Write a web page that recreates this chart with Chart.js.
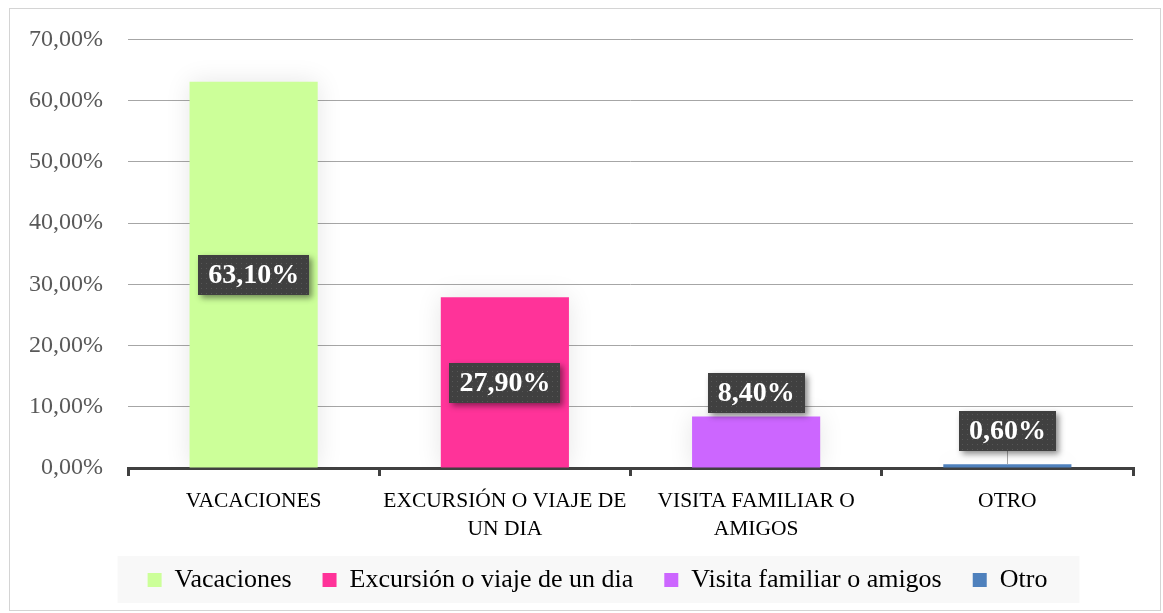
<!DOCTYPE html>
<html>
<head>
<meta charset="utf-8">
<script src="https://cdn.jsdelivr.net/npm/chart.js@4/dist/chart.umd.min.js"></script>
<style>
  html, body { margin: 0; padding: 0; background: #fff; }
  #wrap { width: 1163px; height: 613px; position: relative; }
</style>
</head>
<body>
<div id="wrap"><canvas id="chart" width="1163" height="613"></canvas></div>
<script>
// --- data ---
const categories = [['VACACIONES'], ['EXCURSIÓN O VIAJE DE', 'UN DIA'], ['VISITA FAMILIAR O', 'AMIGOS'], ['OTRO']];
const seriesNames = ['Vacaciones', 'Excursión o viaje de un dia', 'Visita familiar o amigos', 'Otro'];
const values = [63.1, 27.9, 8.4, 0.6];
const colors = ['#CCFF99', '#FF3399', '#CC66FF', '#4F81BD'];
const yTicks = [0, 10, 20, 30, 40, 50, 60, 70];

const SERIF = '"Liberation Serif", "DejaVu Serif", serif';
const fmt = v => v.toFixed(2).replace('.', ',') + '%';

// one dataset per category so the legend lists each one
const datasets = seriesNames.map((name, i) => ({
  label: name,
  data: values.map((v, j) => (j === i ? v : null)),
  backgroundColor: colors[i],
  borderWidth: 0
}));

/* outer frame + grey legend band; nudge legend to the right like the original */
const framePlugin = {
  id: 'frame',
  afterLayout(chart) {
    chart.legend.left += 26;
    chart.legend.right += 26;
  },
  beforeDraw(chart) {
    const { ctx } = chart;
    ctx.save();
    ctx.fillStyle = '#fff';
    ctx.fillRect(0, 0, chart.width, chart.height);
    ctx.strokeStyle = '#d4d4d4';
    ctx.lineWidth = 1;
    ctx.strokeRect(9.5, 8.5, 1151, 602);
    const boxes = chart.legend.legendHitBoxes;
    if (boxes && boxes.length) {
      const first = boxes[0], last = boxes[boxes.length - 1];
      ctx.fillStyle = '#f8f8f8';
      ctx.fillRect(first.left - 30, 556, last.left + last.width - first.left + 62, 47);
    }
    ctx.restore();
  }
};

/* soft glow behind bars */
const glowPlugin = {
  id: 'glow',
  beforeDatasetDraw(chart) {
    const ctx = chart.ctx;
    ctx.save();
    ctx.shadowColor = 'rgba(0,0,0,0.10)';
    ctx.shadowBlur = 24;
  },
  afterDatasetDraw(chart) { chart.ctx.restore(); }
};

/* dark textured value labels */
const labelPlugin = {
  id: 'valueLabels',
  afterDatasetsDraw(chart) {
    const { ctx } = chart;
    const base = chart.scales.y.getPixelForValue(0);
    chart.data.datasets.forEach((ds, i) => {
      const meta = chart.getDatasetMeta(i);
      ds.data.forEach((v, j) => {
        if (v == null) return;
        const bar = meta.data[j];
        const text = fmt(v);
        ctx.save();
        ctx.font = 'bold 28px ' + SERIF;
        const w = Math.round(ctx.measureText(text).width + 20);
        const h = 40;
        let cy;
        if (v > 20) cy = (bar.y + base) / 2;
        else cy = Math.min(bar.y - 24, base - 37);
        const x = Math.round(bar.x - w / 2), y = Math.round(cy - h / 2);
        if (y + h < bar.y - 6) {
          ctx.strokeStyle = '#a6a6a6';
          ctx.lineWidth = 1;
          ctx.beginPath();
          ctx.moveTo(Math.round(bar.x) + 0.5, y + h);
          ctx.lineTo(Math.round(bar.x) + 0.5, bar.y);
          ctx.stroke();
        }
        ctx.shadowColor = 'rgba(0,0,0,0.45)';
        ctx.shadowBlur = 6;
        ctx.shadowOffsetX = 3;
        ctx.shadowOffsetY = 3;
        ctx.fillStyle = '#404040';
        ctx.fillRect(x, y, w, h);
        ctx.shadowColor = 'transparent';
        ctx.fillStyle = '#575757';
        for (let py = y + 3; py < y + h; py += 5) {
          for (let px = x + 3; px < x + w; px += 5) ctx.fillRect(px, py, 1, 1);
        }
        ctx.fillStyle = '#ffffff';
        ctx.textAlign = 'center';
        ctx.textBaseline = 'middle';
        ctx.fillText(text, bar.x, cy + 1);
        ctx.restore();
      });
    });
  }
};

new Chart(document.getElementById('chart'), {
  type: 'bar',
  data: { labels: categories, datasets },
  plugins: [framePlugin, glowPlugin, labelPlugin],
  options: {
    responsive: false,
    animation: false,
    skipNull: true,
    categoryPercentage: 1,
    barPercentage: 0.51,
    layout: { padding: { left: 10, right: 30, top: 39, bottom: 10 } },
    plugins: {
      legend: {
        position: 'bottom',
        labels: {
          color: '#000',
          font: { family: SERIF, size: 26 },
          boxWidth: 14, boxHeight: 14,
          padding: 31
        }
      },
      tooltip: { enabled: false }
    },
    scales: {
      x: {
        afterFit: s => { s.height = 68; },
        grid: { offset: true, drawOnChartArea: false, drawTicks: true, tickLength: 8, color: '#404040', lineWidth: 3 },
        border: { display: true, color: '#404040', width: 3 },
        ticks: { color: '#000', font: { family: SERIF, size: 21.5, lineHeight: 1.3 }, padding: 11, maxRotation: 0 }
      },
      y: {
        min: 0, max: 70,
        afterFit: s => { s.width = 118; },
        afterBuildTicks: s => { s.ticks = yTicks.map(v => ({ value: v })); },
        grid: { color: '#a6a6a6', lineWidth: 1, drawTicks: false },
        border: { display: false },
        ticks: { color: '#595959', font: { family: SERIF, size: 24 }, padding: 25, callback: v => fmt(v) }
      }
    }
  }
});
</script>
</body>
</html>
